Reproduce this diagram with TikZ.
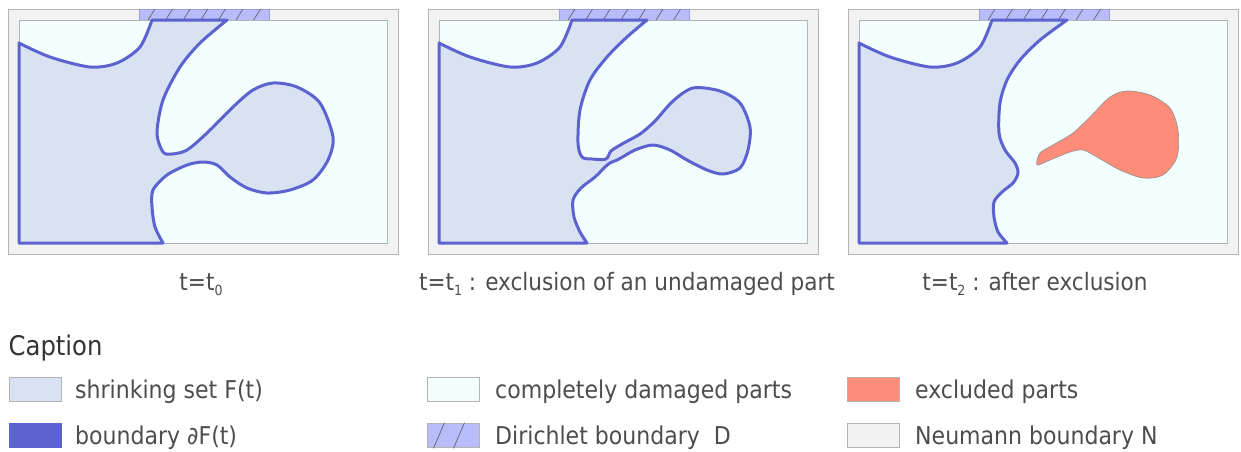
\documentclass[tikz,border=0pt]{standalone}
\usepackage{fontspec}
\setmainfont{DejaVu Sans Condensed}
\definecolor{neumanngray}{HTML}{F2F2F2}
\definecolor{framegray}{HTML}{B4B4B4}
\definecolor{damagedcyan}{HTML}{F3FEFE}
\definecolor{innergray}{HTML}{AEB4BA}
\definecolor{shrinkblue}{HTML}{D8E2F3}
\definecolor{bdryblue}{HTML}{5C63D0}
\definecolor{dirblue}{HTML}{B8BCF8}
\definecolor{dirline}{HTML}{9A9EDC}
\definecolor{hatchgray}{HTML}{555566}
\definecolor{exclsalmon}{HTML}{FF8C78}
\definecolor{exclgray}{HTML}{8C9090}
\definecolor{textgray}{HTML}{4D4D4D}
\definecolor{captiongray}{HTML}{333333}
\newcommand{\tsub}[1]{\raisebox{-5pt}{\fontsize{14}{14}\selectfont #1}}
\tikzset{
  neumann/.style={fill=neumanngray, draw=framegray, line width=1},
  damaged/.style={fill=damagedcyan, draw=innergray, line width=1},
  shrink/.style={fill=shrinkblue, draw=bdryblue, line width=3, line join=round},
  dirichlet/.style={fill=dirblue, draw=dirline, line width=0.8},
  hatch/.style={draw=hatchgray, line width=0.6},
  excluded/.style={fill=exclsalmon, draw=exclgray, line width=0.6},
  title/.style={font=\fontsize{24}{28}\selectfont, text=textgray, anchor=base, inner sep=0},
  legtext/.style={font=\fontsize{24.5}{28}\selectfont, text=textgray, anchor=base west, inner sep=0},
  swatch/.style={minimum width=52, minimum height=24.5, inner sep=0, draw=framegray, line width=1}
}

\begin{document}
\begin{tikzpicture}[x=1pt,y=-1pt]
  \useasboundingbox (0,0) rectangle (1241,451);

  % t = t0
  \begin{scope}
    \draw[neumann] (8,9) rectangle (398,254);
    \draw[dirichlet] (139,9) rectangle (269,20);
    \begin{scope}
      \clip (139,9) rectangle (269,20);
      \foreach \k in {0,...,6}
        \draw[hatch] (148+17.6*\k,20) -- (155+17.6*\k,9);
    \end{scope}
    \draw[damaged] (19,20) rectangle (387,243);
    \draw[shrink] (19,243) -- (19,43)
      -- plot[smooth] coordinates {(19,43) (50,57) (90,67) (117,63) (140,47) (152,20)}
      -- (227,20)
      -- plot[smooth] coordinates {(227,20) (200,43) (180,67) (163,100) (157,133) (163,152)
         (172,154) (187,150) (207,133) (233,107) (253,90) (273,83) (297,87) (320,103)
         (333,137) (328,160) (313,180) (290,190) (267,193) (247,188) (230,177) (217,165)
         (203,162) (187,165) (167,175) (153,190) (152,207) (155,227) (163,243)}
      -- cycle;
  \end{scope}

  % t = t1
  \begin{scope}[xshift=420]
    \draw[neumann] (8,9) rectangle (398,254);
    \draw[dirichlet] (139,9) rectangle (269,20);
    \begin{scope}
      \clip (139,9) rectangle (269,20);
      \foreach \k in {0,...,6}
        \draw[hatch] (148+17.6*\k,20) -- (155+17.6*\k,9);
    \end{scope}
    \draw[damaged] (19,20) rectangle (387,243);
    \draw[shrink] (19,243) -- (19,43)
      -- plot[smooth] coordinates {(19,43) (50,57) (90,67) (117,63) (140,47) (152,20)}
      -- (227,20)
      -- plot[smooth] coordinates {(227,20) (207,37) (187,57) (170,80) (160,110) (158,143)
         (162,157) (172,159) (186,159) (191,151) (202,144) (220,134) (235,121) (253,101)
         (273,88) (300,91) (320,103) (330,127) (328,150) (320,168) (303,174) (287,170)
         (267,160) (250,150) (233,145) (215,150) (199,159) (190,163) (185,167) (175,177)
         (161,188) (153,200) (154,217) (160,232) (167,243)}
      -- cycle;
  \end{scope}

  % t = t2
  \begin{scope}[xshift=840]
    \draw[neumann] (8,9) rectangle (398,254);
    \draw[dirichlet] (139,9) rectangle (269,20);
    \begin{scope}
      \clip (139,9) rectangle (269,20);
      \foreach \k in {0,...,6}
        \draw[hatch] (148+17.6*\k,20) -- (155+17.6*\k,9);
    \end{scope}
    \draw[damaged] (19,20) rectangle (387,243);
    \draw[shrink] (19,243) -- (19,43)
      -- plot[smooth] coordinates {(19,43) (50,57) (90,67) (117,63) (140,47) (152,20)}
      -- (227,20)
      -- plot[smooth] coordinates {(227,20) (200,40) (180,60) (167,80) (160,103) (159,133)
         (165,150) (175,163) (178,173) (173,183) (162,192) (154,202) (154,217) (158,232)
         (167,243)}
      -- cycle;
    \draw[excluded] plot[smooth cycle] coordinates {(197,165) (200,153) (213,145) (233,133)
      (250,117) (270,97) (287,91) (310,95) (330,108) (338,130) (337,157) (323,175)
      (303,178) (280,170) (257,157) (243,150) (230,152) (210,160)};
  \end{scope}

  \node[title] (lblzero) at (201,290) {t=t\tsub{0}};
  \node[title] (lblone) at (627,290) {t=t\tsub{1} : exclusion of an undamaged part};
  \node[title] (lbltwo) at (1035,290) {t=t\tsub{2} : after exclusion};

  % caption
  \node[anchor=base west, inner sep=0, text=captiongray, font=\fontsize{27}{32}\selectfont]
    (caption) at (8.5,355) {Caption};

  \node[swatch, fill=shrinkblue] (swshrink) at (35,389.5) {};
  \node[swatch, fill=bdryblue, draw=bdryblue] (swbdry) at (35,435.5) {};
  \node[swatch, fill=damagedcyan] (swdamaged) at (453,389.5) {};
  \node[swatch, fill=dirblue] (swdir) at (453,435.5) {};
  \draw[hatch] ([xshift=7]swdir.south west) -- ([xshift=18]swdir.north west);
  \draw[hatch] ([xshift=27]swdir.south west) -- ([xshift=38]swdir.north west);
  \node[swatch, fill=exclsalmon] (swexcl) at (873.5,389.5) {};
  \node[swatch, fill=neumanngray] (swneumann) at (873.5,435.5) {};

  \node[legtext] (txshrink) at (75,398) {shrinking set F(t)};
  \node[legtext] (txbdry) at (75,444) {boundary ∂F(t)};
  \node[legtext] (txdamaged) at (495,398) {completely damaged parts};
  \node[legtext] (txdir) at (495,444) {Dirichlet boundary\ \ D};
  \node[legtext] (txexcl) at (915,398) {excluded parts};
  \node[legtext] (txneumann) at (915,444) {Neumann boundary N};
\end{tikzpicture}
\end{document}
